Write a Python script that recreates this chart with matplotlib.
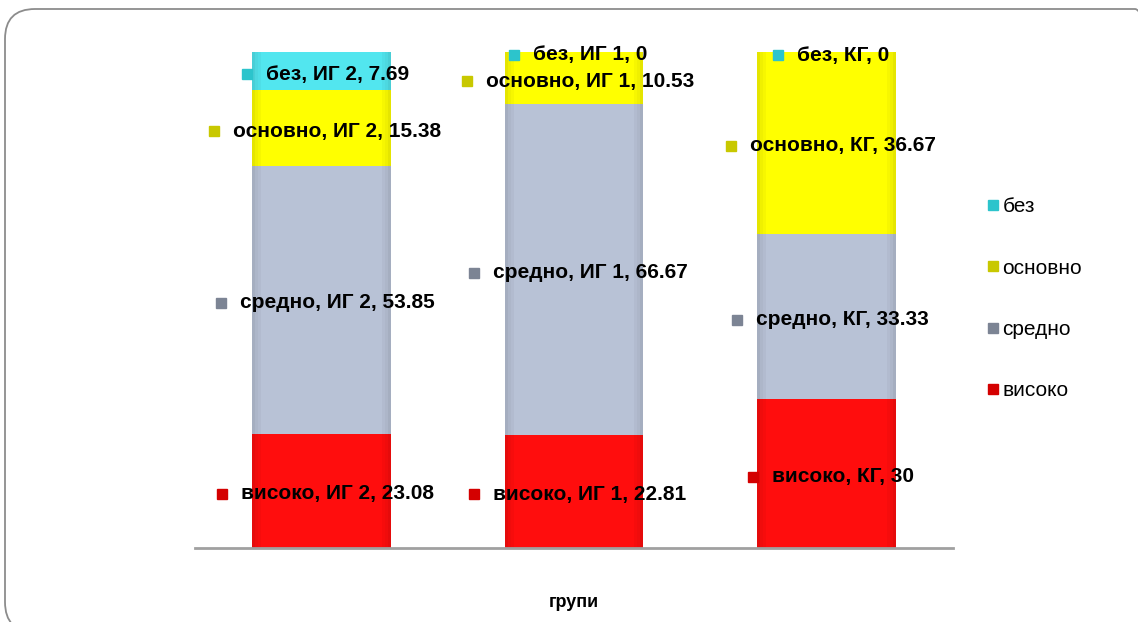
import numpy as np
import matplotlib.pyplot as plt
from matplotlib.patches import FancyBboxPatch
from matplotlib.lines import Line2D

plt.rcParams['font.family'] = ['Liberation Sans', 'DejaVu Sans']

# data
groups   = ['ИГ 2', 'ИГ 1', 'КГ']
levels   = ['високо', 'средно', 'основно', 'без']
visoko   = [23.08, 22.81, 30.0]
sredno   = [53.85, 66.67, 33.33]
osnovno  = [15.38, 10.53, 36.67]
bez      = [7.69, 0.0, 0.0]
values   = [visoko, sredno, osnovno, bez]
colors   = ['#ff0d0d', '#b8c2d6', '#ffff00', '#52e6ef']
mcolors  = ['#d40000', '#7c8494', '#c8c800', '#2cc4cc']

fig = plt.figure(figsize=(11.38, 6.22), dpi=100)
ax = fig.add_axes([195/1138, 74/622, 758/1138, 496/622])

x = np.arange(len(groups))
bottom = np.zeros(len(groups))
texts = []
for lev, vals, col, mc in zip(levels, values, colors, mcolors):
    vals = np.array(vals)
    ax.bar(x, vals, width=0.55, bottom=bottom, color=col, edgecolor='none')
    # soft darker edges for a slightly rounded look
    for xi, b, v in zip(x, bottom, vals):
        for k, a in enumerate([0.10, 0.06, 0.03]):
            w = 0.012
            ax.bar(xi - 0.275 + w*(k + 0.5), v, width=w, bottom=b,
                   color='black', alpha=a, edgecolor='none')
            ax.bar(xi + 0.275 - w*(k + 0.5), v, width=w, bottom=b,
                   color='black', alpha=a, edgecolor='none')
    for xi, b, v, g in zip(x, bottom, vals, groups):
        lbl = f"{lev}, {g}, {v:g}"
        t = ax.annotate(lbl, (xi, b + v/2), xytext=(16, -3),
                        textcoords='offset pixels', ha='center', va='center',
                        fontsize=15, fontweight='bold', color='black',
                        annotation_clip=False)
        texts.append((t, mc))
    bottom += vals

ax.set_xlim(-0.5, 2.5)
ax.set_ylim(0, 100)
ax.set_xticks([])
ax.set_yticks([])
for s in ['top', 'right', 'left']:
    ax.spines[s].set_visible(False)
ax.spines['bottom'].set_color('#a0a0a0')
ax.spines['bottom'].set_linewidth(2)
ax.set_xlabel('групи', fontsize=13, fontweight='bold', labelpad=33)

# place small markers to the left of each label
fig.canvas.draw()
inv = ax.transData.inverted()
for t, mc in texts:
    bb = t.get_window_extent()
    px, py = bb.x0 - 19, (bb.y0 + bb.y1) / 2
    dx, dy = inv.transform((px, py))
    ax.plot(dx, dy, marker='s', ms=7.5, color=mc, mec=mc, clip_on=False)

# legend
handles = [Line2D([], [], ls='none', marker='s', ms=7.5, color=mcolors[i])
           for i in range(3, -1, -1)]
fig.legend(handles, levels[::-1], loc='upper left',
           bbox_to_anchor=(975/1138, 1 - 187/622), frameon=False,
           fontsize=15, labelspacing=2.03, handlelength=0.7,
           handletextpad=0.12, borderpad=0)

# rounded frame
frame = FancyBboxPatch((0.05, -0.1), 11.6, 6.23,
                       boxstyle='round,pad=0,rounding_size=0.3',
                       transform=fig.dpi_scale_trans, fill=False,
                       edgecolor='#8c8c8c', linewidth=1.3)
fig.patches.append(frame)

fig.savefig('out.png', dpi=100)
